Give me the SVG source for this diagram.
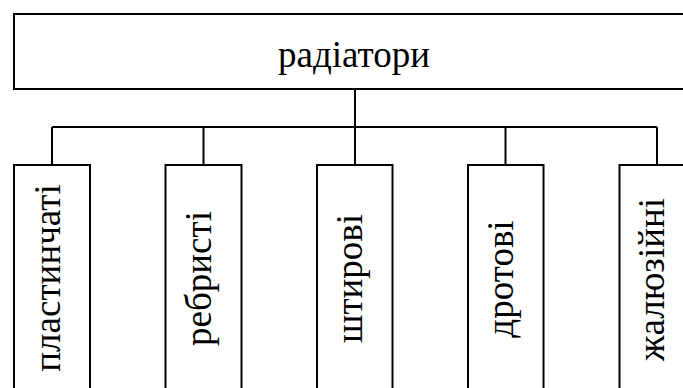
<svg xmlns="http://www.w3.org/2000/svg" width="683" height="388" viewBox="0 0 683 388">
<style>
.box{fill:#fff;stroke:#000;stroke-width:2}
.ln{fill:none;stroke:#000;stroke-width:2}
.t{font-family:"Liberation Serif","Times New Roman",serif;font-size:37px;fill:#000;text-anchor:middle}
</style>
<rect width="683" height="388" fill="#fff"/>
<g id="connectors">
<path class="ln" d="M355,89V127M52,127H657M52,127V165M203.5,127V165M355,127V165M505.5,127V165M657,127V165"/>
</g>
<g id="root">
<rect class="box" x="14" y="14" width="680" height="75"/>
<text class="t" x="354" y="67">радіатори</text>
</g>
<g id="n1">
<rect class="box" x="14" y="165" width="76" height="240"/>
<text class="t" transform="translate(60,278) rotate(-90)">пластинчаті</text>
</g>
<g id="n2">
<rect class="box" x="165.5" y="165" width="76" height="240"/>
<text class="t" transform="translate(211,278.5) rotate(-90)">ребристі</text>
</g>
<g id="n3">
<rect class="box" x="317" y="165" width="75.5" height="240"/>
<text class="t" transform="translate(362,278.5) rotate(-90)">штирові</text>
</g>
<g id="n4">
<rect class="box" x="468" y="165" width="75.5" height="240"/>
<text class="t" transform="translate(513,279) rotate(-90)">дротові</text>
</g>
<g id="n5">
<rect class="box" x="619.5" y="165" width="80" height="240"/>
<text class="t" transform="translate(664,279.5) rotate(-90)">жалюзійні</text>
</g>
</svg>
